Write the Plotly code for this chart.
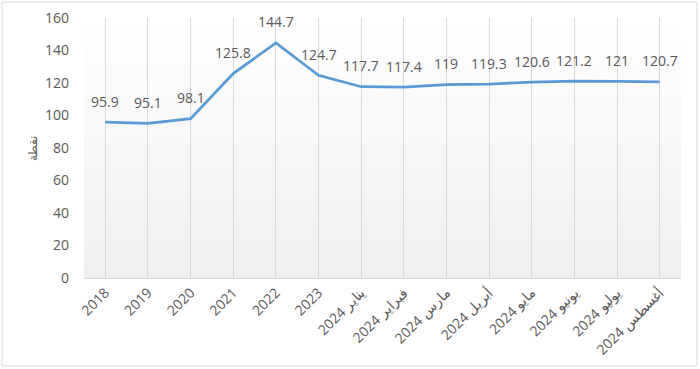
import plotly.graph_objects as go

categories = ["2018", "2019", "2020", "2021", "2022", "2023",
              "يناير 2024", "فبراير 2024", "مارس 2024", "أبريل 2024",
              "مايو 2024", "يونيو 2024", "يوليو 2024", "أغسطس 2024"]
values = [95.9, 95.1, 98.1, 125.8, 144.7, 124.7, 117.7, 117.4, 119, 119.3,
          120.6, 121.2, 121, 120.7]
y_ticks = [0, 20, 40, 60, 80, 100, 120, 140, 160]
y_title = "نقطة"

FONT = "Open Sans"
GRAY = "#595959"

idx = list(range(len(categories)))

fig = go.Figure()
fig.add_trace(go.Scatter(
    x=idx, y=values, mode="lines",
    line=dict(color="#5B9BD5", width=2.75),
    hoverinfo="skip", showlegend=False,
))

annotations = []
for i, v in zip(idx, values):
    annotations.append(dict(
        x=i, y=v, xref="x", yref="y", text=f"{v:g}", showarrow=False,
        yshift=21, font=dict(family=FONT, size=14, color=GRAY),
    ))

shapes = []
# gradient background of plot area
n = 30
for i in range(n):
    t = i / (n - 1)
    g = int(round(255 - 16 * (1 - t)))
    shapes.append(dict(
        type="rect", xref="x domain", yref="y domain",
        x0=0, x1=1, y0=i / n, y1=(i + 1) / n,
        fillcolor=f"rgb({g},{g},{g})", line=dict(width=0), layer="below",
    ))
# outer chart border
shapes.append(dict(type="rect", xref="paper", yref="paper",
                   x0=-82/597, x1=1 + 16/597, y0=-88/260, y1=1 + 16/260,
                   line=dict(color="#d9d9d9", width=1), layer="below"))

fig.update_layout(
    width=700, height=369,
    margin=dict(l=84, r=19, t=18, b=91),
    paper_bgcolor="white", plot_bgcolor="white",
    font=dict(family=FONT, size=13, color=GRAY),
    annotations=annotations, shapes=shapes,
    xaxis=dict(
        range=[-0.5, len(categories) - 0.5],
        tickvals=idx, ticktext=categories,
        tickangle=-45, showgrid=True, gridcolor="#d9d9d9", gridwidth=1,
        showline=True, linecolor="#d9d9d9", linewidth=1, zeroline=False,
        ticks="", tickfont=dict(family=FONT, size=14, color=GRAY),
        fixedrange=True, layer="below traces", automargin=False,
    ),
    yaxis=dict(
        range=[0, 160], tickvals=y_ticks, showgrid=False, zeroline=False,
        showline=False, ticks="", ticklabelstandoff=14,
        tickfont=dict(family=FONT, size=14, color=GRAY),
        title=dict(text=y_title, font=dict(family=FONT, size=12, color=GRAY), standoff=4),
        fixedrange=True, automargin=False,
    ),
)

fig.write_html("out.html", config={"displayModeBar": False},
               post_script="document.body.style.margin='0';")
